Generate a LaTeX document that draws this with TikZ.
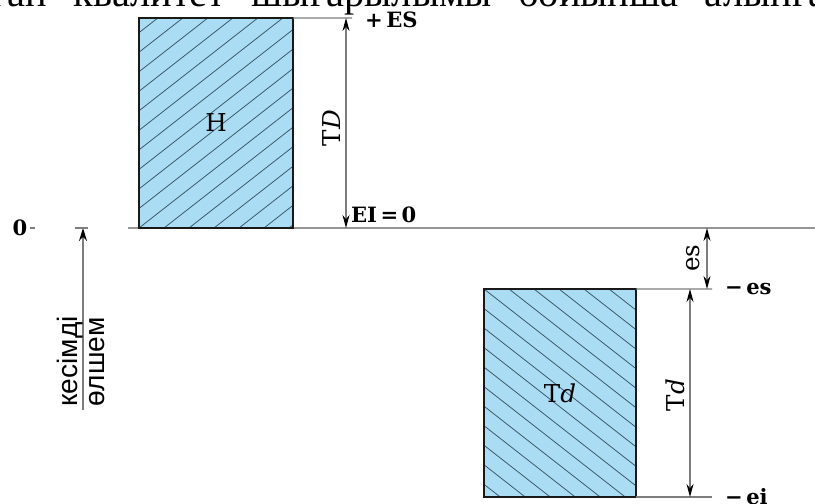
\documentclass[tikz,border=0pt]{standalone}
\usepackage{fontspec}
\setmainfont{Liberation Serif}
\newfontfamily\sizefont{Liberation Sans}
\newfontfamily\dimfont{DejaVu Serif}
\usetikzlibrary{calc,arrows.meta}
\definecolor{TolBlue}{RGB}{170,221,243}
\definecolor{HatchGrey}{RGB}{60,88,105}
\definecolor{DimGrey}{RGB}{125,125,125}
\definecolor{ZeroGrey}{RGB}{150,150,150}
\tikzset{
    tolbox/.style={rectangle,draw=black!90,line width=1.3pt,fill=TolBlue,inner sep=0pt,outer sep=0pt,anchor=south west,font=\dimfont\fontsize{14}{16}\selectfont},
    hatchup/.style={path picture={\foreach \k in {-14,...,8} \draw[HatchGrey,line width=0.45pt] ($(path picture bounding box.south west)+(\k*0.5,0)$) -- ++(38:10);}},
    hatchdown/.style={path picture={\foreach \k in {-14,...,8} \draw[HatchGrey,line width=0.45pt] ($(path picture bounding box.north west)+(\k*0.5,0)$) -- ++(-38:10);}},
    dimline/.style={DimGrey,line width=0.6pt,{Stealth[length=2.6mm,width=1.4mm,color=black]}-{Stealth[length=2.6mm,width=1.4mm,color=black]}},
    sizeline/.style={DimGrey,line width=0.9pt,-{Stealth[length=2.6mm,width=1.6mm,color=black]}},
    extline/.style={DimGrey,line width=0.6pt},
    zeroline/.style={ZeroGrey,line width=0.9pt},
    dimtext/.style={inner sep=1pt,font=\dimfont\fontsize{14}{16}\selectfont},
    limittext/.style={inner sep=1pt,font=\dimfont\bfseries\fontsize{12}{14}\selectfont},
    sizetext/.style={inner sep=0pt,font=\sizefont\fontsize{16}{18}\selectfont}
}
\begin{document}
\begin{tikzpicture}
\useasboundingbox (0,0) rectangle (16.3,10.06);

% heading, cut off by the page edge
\node[anchor=base west,inner sep=0pt,font=\fontsize{23}{27}\selectfont] (heading) at (-0.18,9.94) {\spaceskip=15pt ған квалитет шығарылымы бойынша алынған};

% zero line
\coordinate (zeroL) at (2.56,5.5);
\coordinate (zeroR) at (16.3,5.5);
\draw[zeroline] (zeroL) -- (zeroR);

% tolerance fields
\node[tolbox,hatchup,minimum width=3.08cm,minimum height=4.2cm] (hole) at (2.78,5.5) {H};
\node[tolbox,hatchdown,minimum width=3.04cm,minimum height=4.16cm] (shaft) at (9.68,0.12) {T\textit{d}};

% extension lines
\coordinate (ESend) at (7.04,9.7);
\coordinate (esEnd) at (14.24,4.28);
\coordinate (eiEnd) at (14.24,0.12);
\draw[extline] (hole.north east) -- (ESend);
\draw[extline] (shaft.north east) -- (esEnd);
\draw[extline] (shaft.south east) -- (eiEnd);

% dimension arrows
\coordinate (TDtop) at (6.92,9.7);
\coordinate (TDbot) at (6.92,5.5);
\draw[dimline] (TDtop) -- (TDbot);
\coordinate (esTop) at (14.14,5.5);
\coordinate (esBot) at (14.14,4.28);
\draw[dimline] (esTop) -- (esBot);
\coordinate (TdTop) at (13.8,4.28);
\coordinate (TdBot) at (13.8,0.12);
\draw[dimline] (TdTop) -- (TdBot);

% size arrow on the left
\coordinate (sizeBot) at (1.66,1.86);
\coordinate (sizeTop) at (1.66,5.5);
\coordinate (tickL) at (1.5,5.5);
\coordinate (tickR) at (1.76,5.5);
\draw[sizeline] (sizeBot) -- (sizeTop);
\draw[extline] (tickL) -- (tickR);

% labels
\node[limittext,anchor=west] (ES) at (7.26,9.66) {+\,ES};
\node[limittext,anchor=west] (EI) at (6.98,5.76) {EI\,=\,0};
\node[dimtext,rotate=90] (TD) at (6.64,7.5) {T\textit{D}};
\node[dimtext,rotate=90] (esLabel) at (13.86,4.9) {es};
\node[dimtext,rotate=90] (TdLabel) at (13.5,2.16) {T\textit{d}};
\node[limittext,anchor=west] (minusES) at (14.46,4.28) {−\,es};
\node[limittext,anchor=west] (minusEI) at (14.46,0.12) {−\,ei};
\node[limittext] (zero) at (0.4,5.5) {0};
\coordinate (zeroDashL) at (0.6,5.5);
\coordinate (zeroDashR) at (0.7,5.5);
\draw[extline] (zeroDashL) -- (zeroDashR);
\node[sizetext,rotate=90,anchor=west] (kesimdi) at (1.4,1.92) {кесімді};
\node[sizetext,rotate=90,anchor=west] (olshem) at (1.94,1.92) {өлшем};
\end{tikzpicture}
\end{document}
